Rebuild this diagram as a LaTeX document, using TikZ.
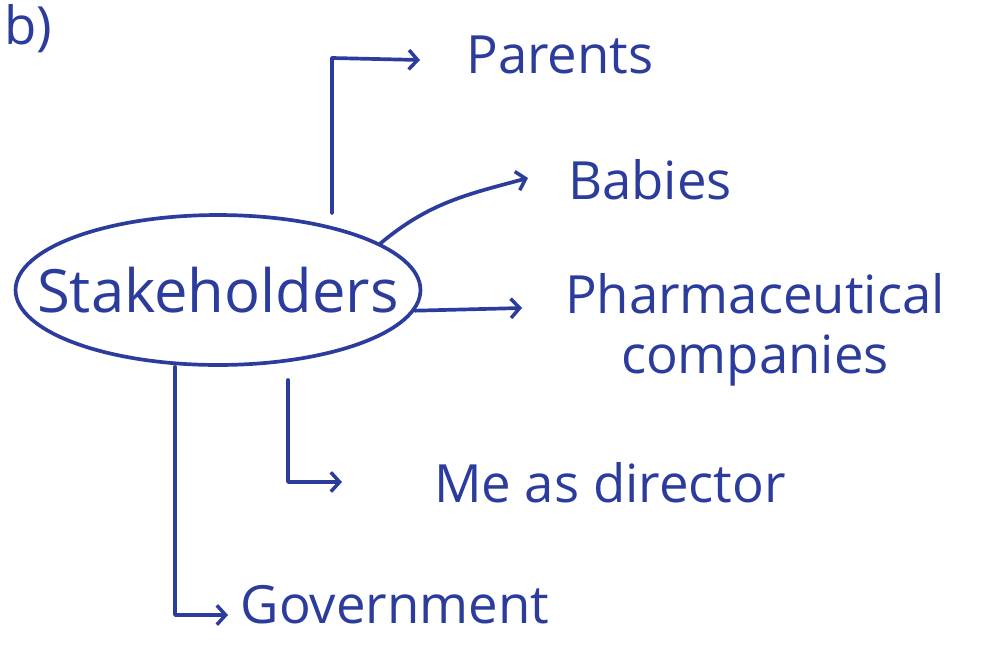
\documentclass[tikz,border=0pt]{standalone}
\usepackage{fontspec}
\setmainfont{Open Sans}
\usetikzlibrary{arrows.meta,shapes.geometric}
\definecolor{ink}{HTML}{2B3C9C}
\tikzset{
  ink/.style={draw=ink, line width=2.1pt, line cap=round, line join=round},
  arr/.style={ink, -{Straight Barb[length=5pt,width=11pt,line width=2pt]}},
  lbl/.style={text=ink, inner sep=0pt, font=\fontsize{30}{34}\selectfont},
}
\begin{document}
\begin{tikzpicture}[x=0.02cm,y=-0.02cm]
\useasboundingbox (0,0) rectangle (982,646);
% heading
\node[lbl, anchor=north west, inner sep=1pt] (hd) at (2,2) {b)};
% central ellipse
\node[ink, ellipse, minimum width=8.1cm, minimum height=3cm, inner sep=0pt] (stake) at (218,290) {};
\node[lbl, font=\fontsize{34}{38}\selectfont] (stxt) at (stake.center) {Stakeholders};
% labels
\node[lbl] (parents) at (560,55) {Parents};
\node[lbl] (babies) at (650,180) {Babies};
\node[lbl, align=center] (pharma) at (755,330) {Pharmaceutical\\companies};
\node[lbl] (me) at (610,483) {Me as director};
\node[lbl] (gov) at (395,605) {Government};
% connector turning points and ends
\coordinate (pturn) at (332,58);
\coordinate (pend) at (420,60);
\coordinate (bend) at (528,178);
\coordinate (phend) at (522,308);
\coordinate (mstart) at (288,380);
\coordinate (mturn) at (288,482);
\coordinate (mend) at (342,482);
\coordinate (gturn) at (175,615);
\coordinate (gend) at (228,615);
% connectors
\draw[arr] (stake.north -| pturn) -- (pturn) -- (pend);
\draw[arr] (stake.16) to[out=40, in=195] (bend);
\draw[arr] (stake.-6) -- (phend);
\draw[arr] (mstart) -- (mturn) -- (mend);
\draw[arr] (stake.south -| gturn) -- (gturn) -- (gend);
\end{tikzpicture}
\end{document}
